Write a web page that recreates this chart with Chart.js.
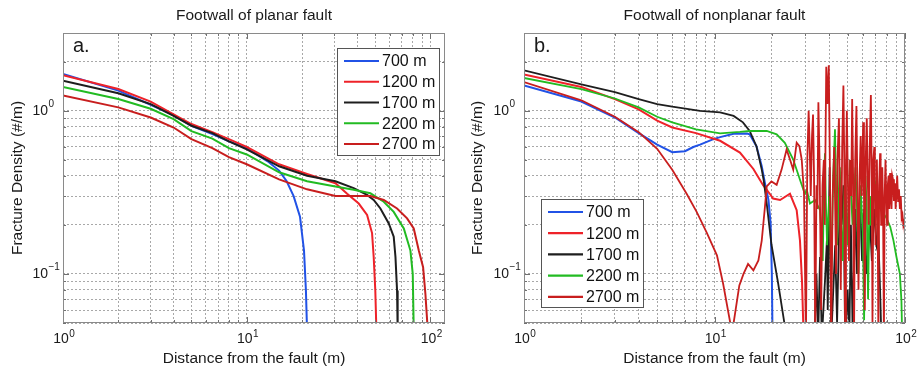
<!DOCTYPE html>
<html><head><meta charset="utf-8">
<script src="https://cdn.jsdelivr.net/npm/chart.js@4.4.1/dist/chart.umd.min.js"></script>
<style>
html,body{margin:0;padding:0;background:#fff;}
.pane{position:absolute;top:0;height:370px;}
</style>
</head><body>
<div class="pane" style="left:0;width:460px"><canvas id="ca" width="460" height="370"></canvas></div>
<div class="pane" style="left:460px;width:463px"><canvas id="cb" width="463" height="370"></canvas></div>
<script>
// ---------- labels ----------
const seriesLabels = ['700 m', '1200 m', '1700 m', '2200 m', '2700 m'];
const panelTitles = ['Footwall of planar fault', 'Footwall of nonplanar fault'];
const panelTags = ['a.', 'b.'];
const xTitle = 'Distance from the fault (m)';
const yTitle = 'Fracture Density (#/m)';
const tickMultipliers = [1, 2, 3, 4, 5, 6, 7, 8, 9];
const xDecades = [1, 10, 100];
const yDecades = [0.01, 0.1, 1];

// ---------- panel a: planar fault, [distance (m), density (#/m)] ----------
const a700 = [[1,1.68],[2,1.33],[3,1.09],[4,0.94],[5,0.81],[6.5,0.72],[8,0.65],[10,0.59],[13,0.49],[15,0.43],[16.5,0.37],[18,0.30],[19.5,0.224],[20.5,0.139],[21,0.079],[21.3,0.045]];
const a1200 = [[1,1.65],[2,1.36],[3,1.14],[4,0.95],[5,0.83],[6.5,0.74],[8,0.67],[10,0.60],[15,0.47],[21.3,0.41],[30.4,0.36],[35.2,0.31],[40.7,0.27],[45.2,0.23],[48.1,0.178],[49.1,0.127],[50.1,0.079],[50.8,0.045]];
const a1700 = [[1,1.53],[2,1.28],[3,1.10],[4,0.93],[5,0.81],[6.5,0.73],[8,0.65],[10,0.58],[15,0.457],[21.3,0.40],[30.4,0.37],[38.2,0.336],[45.2,0.305],[49.1,0.284],[53.4,0.252],[59.3,0.204],[63.1,0.169],[64.5,0.127],[65.8,0.079],[66.3,0.045]];
const a2200 = [[1,1.40],[2,1.18],[3,1.03],[4,0.89],[5,0.75],[6.5,0.675],[8,0.59],[10,0.54],[15,0.42],[21.3,0.37],[30.4,0.343],[38.2,0.328],[47.1,0.312],[55.7,0.277],[63.1,0.24],[71.6,0.19],[77.8,0.139],[80.1,0.10],[81.1,0.045]];
const a2700 = [[1,1.24],[2,1.05],[3,0.91],[4,0.79],[5,0.67],[6.5,0.59],[8,0.52],[10,0.47],[15,0.38],[21.3,0.33],[30.4,0.30],[38.2,0.30],[47.1,0.30],[55.7,0.284],[65.8,0.252],[74.6,0.219],[81.1,0.19],[86.4,0.139],[91.2,0.11],[93.9,0.075],[96.7,0.045]];

// ---------- panel b: nonplanar fault ----------
const b700 = [[1,1.43],[2,1.14],[3,0.91],[4,0.73],[5,0.62],[6,0.557],[7,0.565],[7.74,0.6],[8.4,0.62],[9.87,0.67],[10.7,0.69],[12.6,0.724],[14.8,0.725],[15.3,0.717],[16.6,0.607],[17.7,0.457],[18.4,0.36],[19.2,0.284],[19.7,0.204],[20.0,0.1],[20.15,0.045]];
const b1200 = [[1,1.67],[2,1.40],[3,1.18],[4,1.02],[5,0.87],[6,0.79],[8,0.73],[10.7,0.655],[13.6,0.555],[16,0.44],[18,0.35],[19.5,0.31],[20.3,0.29],[22.1,0.284],[24.9,0.31],[27,0.246],[28.1,0.16],[28.8,0.09],[29.3,0.045]];
const b1700 = [[1,1.77],[2,1.45],[3,1.30],[4,1.18],[5,1.10],[6,1.06],[8.4,1.0],[10.7,0.977],[12.6,0.93],[14.1,0.85],[15.3,0.752],[16.6,0.607],[17.7,0.436],[18.1,0.378],[18.8,0.27],[19.9,0.152],[21.6,0.087],[23.6,0.045],[33.5,0.04],[34.3,0.1],[35,0.04],[35.8,0.127],[36.6,0.04],[38,0.09],[38.9,0.16],[39.3,0.06],[40.2,0.45],[41,0.04],[43,0.15],[44,0.05],[45.5,0.3],[46.5,0.2],[47.5,0.35],[48.5,0.04],[50,0.08],[51,0.04],[52,0.2],[53,0.05],[55,0.25],[56,0.1],[58,0.3],[59.5,0.12],[61,0.25],[63,0.1],[65.5,0.21],[67,0.12],[69,0.25],[71,0.15],[72.5,0.168],[74,0.08],[75,0.045]];
const b2200 = [[1,1.59],[2,1.36],[3,1.19],[4,1.05],[5,0.92],[6,0.85],[8,0.77],[10.7,0.728],[13.6,0.742],[15.3,0.752],[18.8,0.752],[21.2,0.717],[23.4,0.637],[25.9,0.503],[28.1,0.378],[29.8,0.31],[30.5,0.328],[31.7,0.27],[33.7,0.284],[35.8,0.246],[36.4,0.18],[37,0.12],[37.5,0.3],[38,0.55],[38.5,0.25],[39,0.15],[39.5,0.22],[40,0.3],[40.5,0.18],[41,0.1],[42,0.4],[42.9,0.77],[43.5,0.3],[44,0.15],[44.8,0.3],[45.5,0.45],[46.2,0.2],[47,0.12],[47.7,0.25],[48.5,0.4],[49.2,0.25],[50,0.15],[50.8,0.3],[51.5,0.5],[52.2,0.3],[53,0.2],[54,0.3],[55,0.45],[56,0.25],[57,0.1],[57.8,0.2],[58.5,0.35],[59.2,0.25],[60,0.2],[61,0.052],[62,0.4],[63,0.25],[64,0.07],[64.8,0.2],[65.5,0.3],[66.3,0.22],[67,0.2],[68.5,0.3],[70,0.35],[71,0.28],[72,0.25],[73,0.3],[74,0.258],[76,0.25],[78,0.23],[80,0.22],[83.7,0.194],[87,0.16],[90.2,0.127],[94,0.1],[95.8,0.068],[96.5,0.045]];
const b2700 = [[1,1.50],[2,1.16],[3,0.92],[4,0.74],[5,0.585],[6,0.435],[7.14,0.31],[8.06,0.24],[9.09,0.18],[10.3,0.13],[11.1,0.087],[12.1,0.05],[12.35,0.044],[12.6,0.05],[13.5,0.085],[14.2,0.1],[15.0,0.115],[16.0,0.105],[17.0,0.121],[17.7,0.16],[18.4,0.258],[18.8,0.344],[19.9,0.369],[21.2,0.352],[22.5,0.436],[23.9,0.579],[24.9,0.503],[25.9,0.436],[27,0.637],[27.9,0.607],[28.7,0.503],[29.5,0.312],[30.2,0.04],[30.7,0.5],[31.2,1.0],[31.6,0.6],[32.0,0.3],[32.5,0.7],[32.9,0.95],[33.3,0.4],[33.8,0.04],[34.3,0.35],[34.7,0.25],[35.1,1.13],[35.6,0.5],[36.3,0.06],[36.9,0.35],[37.5,0.5],[37.9,0.2],[38.6,1.86],[39.1,1.1],[39.8,1.9],[40.3,0.5],[41,0.04],[41.7,0.3],[42.5,0.6],[43.0,0.25],[43.5,0.1],[44.2,0.5],[45,0.9],[45.5,0.3],[46,0.08],[46.8,0.6],[47.5,1.43],[48.0,0.5],[48.5,0.04],[49.0,0.4],[49.5,1.0],[50.1,0.4],[50.8,0.12],[51.5,0.5],[52.2,0.3],[52.8,1.18],[53.4,0.4],[54,0.04],[54.8,0.5],[55.6,1.07],[56.3,0.3],[57,0.08],[57.8,0.4],[58.5,0.7],[59.3,0.3],[60.3,0.85],[60.9,0.3],[61.5,0.06],[62.2,0.5],[63,0.9],[63.7,0.4],[64.5,0.2],[65.3,0.6],[66.2,1.25],[66.9,0.4],[67.5,0.05],[68.2,0.5],[69,0.6],[69.5,0.3],[70,0.15],[70.6,0.35],[71.2,0.5],[71.8,0.25],[72.5,0.04],[73.2,0.35],[74,0.55],[74.5,0.3],[75,0.2],[75.5,0.35],[76,0.45],[76.7,0.25],[77.5,0.04],[78.2,0.3],[79,0.5],[79.7,0.3],[80.5,0.2],[81.2,0.35],[82,0.4],[82.7,0.25],[83.5,0.415],[84.2,0.3],[85,0.25],[85.7,0.4],[86.5,0.38],[87.5,0.28],[88.6,0.36],[89.3,0.25],[90,0.3],[91,0.4],[92,0.28],[93,0.33],[94,0.25],[95,0.3],[96,0.22],[97,0.23],[98,0.2],[99,0.21],[100,0.17]];

const seriesColors = ['#2152e6', '#ee2229', '#1e1e1e', '#22bb22', '#c81e1e'];

// ---------- helpers ----------
const FONT = '"Liberation Sans", Arial, Helvetica, sans-serif';
Chart.defaults.font.family = FONT;
function decadeExp(v) {
  const l = Math.log10(v), e = Math.round(l);
  return Math.abs(l - e) > 1e-9 ? null : e;
}
function baseLabel(v) { return decadeExp(v) === null ? '' : '10'; }
function tickValues(decades, lo, hi) {
  const out = [];
  decades.forEach(d => tickMultipliers.forEach(m => {
    const v = +(d * m).toPrecision(6);
    if (v >= lo - 1e-12 && v <= hi + 1e-12) out.push(v);
  }));
  return out;
}
function toPts(arr) { return arr.map(p => ({x: p[0], y: p[1]})); }

const decor = {
  id: 'decor',
  afterDraw(chart, args, o) {
    const {ctx, chartArea: a, scales} = chart;
    ctx.save();
    // inward tick marks
    ctx.strokeStyle = '#707070'; ctx.lineWidth = 1;
    ctx.beginPath();
    scales.x.ticks.forEach(t => {
      const px = Math.round(scales.x.getPixelForValue(t.value)) + 0.5;
      const len = t.label ? 6 : 3;
      ctx.moveTo(px, a.bottom); ctx.lineTo(px, a.bottom - len);
      ctx.moveTo(px, a.top); ctx.lineTo(px, a.top + len);
    });
    scales.y.ticks.forEach(t => {
      const py = Math.round(scales.y.getPixelForValue(t.value)) + 0.5;
      const len = t.label ? 6 : 3;
      ctx.moveTo(a.left, py); ctx.lineTo(a.left + len, py);
      ctx.moveTo(a.right, py); ctx.lineTo(a.right - len, py);
    });
    ctx.stroke();
    // axes box
    ctx.strokeStyle = '#8a8a8a';
    ctx.strokeRect(Math.round(a.left) + 0.5, Math.round(a.top) + 0.5, Math.round(a.width) - 1, Math.round(a.height) - 1);
    // exponents of the decade tick labels
    ctx.fillStyle = '#1a1a1a';
    ctx.font = '14px ' + FONT;
    const w10 = ctx.measureText('10').width;
    ctx.font = '10px ' + FONT;
    ctx.textAlign = 'left'; ctx.textBaseline = 'middle';
    scales.x.ticks.forEach(t => {
      const e = decadeExp(t.value);
      if (e === null) return;
      const px = scales.x.getPixelForValue(t.value) + o.xLabelShift;
      ctx.fillText(String(e).replace('-', '\u2212'), px + w10 / 2 + 0.5, a.bottom + 11);
    });
    scales.y.ticks.forEach(t => {
      const e = decadeExp(t.value);
      if (e === null) return;
      const py = scales.y.getPixelForValue(t.value);
      ctx.fillText(String(e).replace('-', '\u2212'), a.left - o.yLabelPad + 0.5, py - 7);
    });
    // title
    ctx.font = '15.5px ' + FONT;
    ctx.textAlign = 'center';
    ctx.fillText(o.title, (a.left + a.right) / 2, 16);
    // panel tag
    ctx.font = '20px ' + FONT;
    ctx.textAlign = 'left'; ctx.textBaseline = 'alphabetic';
    ctx.fillText(o.tag, a.left + 10, a.top + 19);
    // legend box
    const L = o.legend;
    ctx.fillStyle = '#fff';
    ctx.fillRect(L.x, L.y, L.w, L.h);
    ctx.strokeStyle = '#555';
    ctx.strokeRect(L.x + 0.5, L.y + 0.5, L.w - 1, L.h - 1);
    ctx.font = '16px ' + FONT;
    ctx.textBaseline = 'middle';
    chart.data.datasets.forEach((ds, i) => {
      const yy = L.y + L.first + i * L.step;
      ctx.strokeStyle = ds.borderColor; ctx.lineWidth = 2.2;
      ctx.beginPath(); ctx.moveTo(L.x + 7, yy); ctx.lineTo(L.x + 42, yy); ctx.stroke();
      ctx.fillStyle = '#111';
      ctx.fillText(ds.label, L.x + 45, yy + 1);
    });
    ctx.restore();
  }
};

const X_LABEL_SHIFT = -2, Y_LABEL_PAD = 15;

function makeChart(id, seriesList, xMax, padRight, yWidth, title, tag, legend, widths) {
  const datasets = seriesList.map((s, i) => ({
    label: seriesLabels[i],
    data: toPts(s),
    borderColor: seriesColors[i],
    backgroundColor: seriesColors[i],
    borderWidth: widths[i],
    pointRadius: 0,
    tension: 0,
    fill: false,
    order: seriesList.length - i
  }));
  const gridOpts = {color: '#a8a8a8', lineWidth: 1, drawTicks: false};
  const borderOpts = {display: false, dash: [2, 2]};
  return new Chart(document.getElementById(id), {
    type: 'line',
    data: {datasets},
    options: {
      responsive: false,
      animation: false,
      devicePixelRatio: 1,
      layout: {padding: {top: 33, right: padRight, bottom: 0, left: 0}},
      plugins: {legend: {display: false}, tooltip: {enabled: false}, title: {display: false},
        decor: {title, tag, legend, xLabelShift: X_LABEL_SHIFT, yLabelPad: Y_LABEL_PAD}},
      scales: {
        x: {
          type: 'logarithmic', min: 1, max: xMax,
          afterBuildTicks: s => { s.ticks = tickValues(xDecades, 1, xMax).map(v => ({value: v})); },
          afterFit: s => { s.height = 47; },
          ticks: {autoSkip: false, maxRotation: 0, padding: 8, labelOffset: X_LABEL_SHIFT, color: '#1a1a1a', font: {size: 14}, callback: v => baseLabel(v)},
          grid: gridOpts, border: borderOpts,
          title: {display: true, text: xTitle, color: '#1a1a1a', font: {size: 15.5}, padding: {top: 0, bottom: 1.7}}
        },
        y: {
          type: 'logarithmic', min: 0.05, max: 3,
          afterBuildTicks: s => { s.ticks = tickValues(yDecades, 0.05, 3).map(v => ({value: v})); },
          afterFit: s => { s.width = yWidth; },
          ticks: {autoSkip: false, padding: Y_LABEL_PAD, color: '#1a1a1a', font: {size: 14}, callback: v => baseLabel(v)},
          grid: gridOpts, border: borderOpts,
          title: {display: true, text: yTitle, color: '#1a1a1a', font: {size: 15.5}, padding: {top: 8.7, bottom: 0}}
        }
      }
    },
    plugins: [decor]
  });
}

makeChart('ca', [a700, a1200, a1700, a2200, a2700], 120, 15, 63, panelTitles[0], panelTags[0],
  {x: 337, y: 48, w: 103, h: 108, first: 13, step: 20.75}, [2, 2, 2, 2, 2]);
makeChart('cb', [b700, b1200, b1700, b2200, b2700], 100, 18, 64, panelTitles[1], panelTags[1],
  {x: 81, y: 199, w: 103, h: 109, first: 13, step: 21.2}, [2, 2, 1.8, 1.8, 1.8]);
</script>
</body></html>
